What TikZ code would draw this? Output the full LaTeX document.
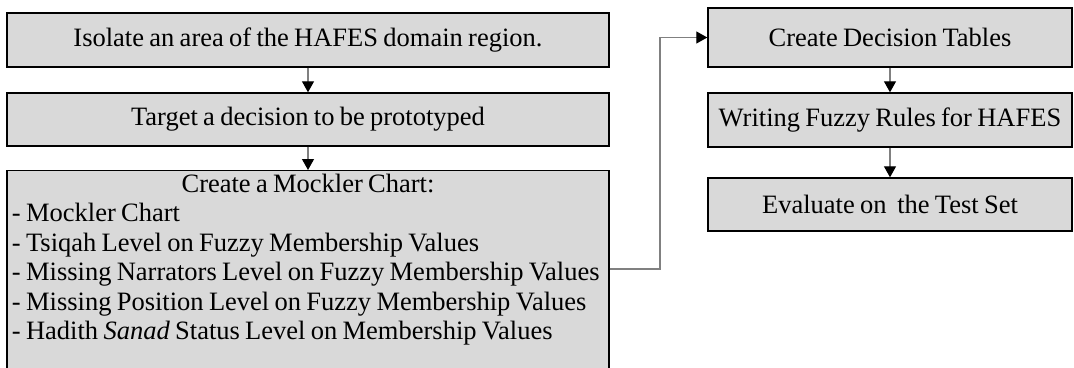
\documentclass[tikz,border=0pt]{standalone}
\usepackage{fontspec}
\setmainfont{Liberation Serif}[WordSpace=0.8]
\usetikzlibrary{arrows.meta}
\definecolor{boxfill}{HTML}{D9D9D9}
\definecolor{linkgray}{HTML}{808080}
\tikzset{
  stepbox/.style={draw=black, line width=1.4pt, fill=boxfill, inner sep=0pt,
    font=\fontsize{26.5}{29.5}\selectfont},
  leftbox/.style={stepbox, minimum width=602pt},
  rightbox/.style={stepbox, minimum width=364pt},
  link/.style={draw=linkgray, line width=1.2pt,
    -{Triangle[length=11pt,width=12pt,color=black]}},
}
\begin{document}
\begin{tikzpicture}[x=1pt,y=-1pt]
\useasboundingbox (0,0) rectangle (1074,367);
\clip (0,0) rectangle (1074,367);
% left column
\node[leftbox, minimum height=54pt] (isolate) at (308,40)
  {Isolate an area of the HAFES domain region.};
\node[leftbox, minimum height=53pt] (target) at (308,119.5)
  {Target a decision to be prototyped};
\node[leftbox, anchor=north, text width=592pt, inner xsep=5pt, inner ysep=3pt,
      align=left] (mock) at (308,170)
  {\spaceskip=0.2em\relax
   \makebox[592pt]{Create a Mockler Chart:}\\
   - Mockler Chart\\
   \mbox{- Tsiqah Level on Fuzzy Membership Values}\\
   \mbox{- Missing Narrators Level on Fuzzy Membership Values}\\
   \mbox{- Missing Position Level on Fuzzy Membership Values}\\
   \mbox{- Hadith \textit{Sanad} Status Level on Membership Values}\rule[-40pt]{0pt}{0pt}};
% right column
\node[rightbox, minimum height=59pt] (tables) at (890,37.5) {Create Decision Tables};
\node[rightbox, minimum height=54pt] (rules) at (890,120) {Writing Fuzzy Rules for HAFES};
\node[rightbox, minimum height=53pt] (evaluate) at (890,204.5) {Evaluate on\ \ the Test Set};
% connectors
\coordinate (bend) at (660,269);
\draw[link] (isolate.south) -- (target.north);
\draw[link] (target.south) -- (mock.north);
\draw[link] (mock.east |- bend) -- (bend) |- (tables.west);
\draw[link] (tables.south) -- (rules.north);
\draw[link] (rules.south) -- (evaluate.north);
\end{tikzpicture}
\end{document}
